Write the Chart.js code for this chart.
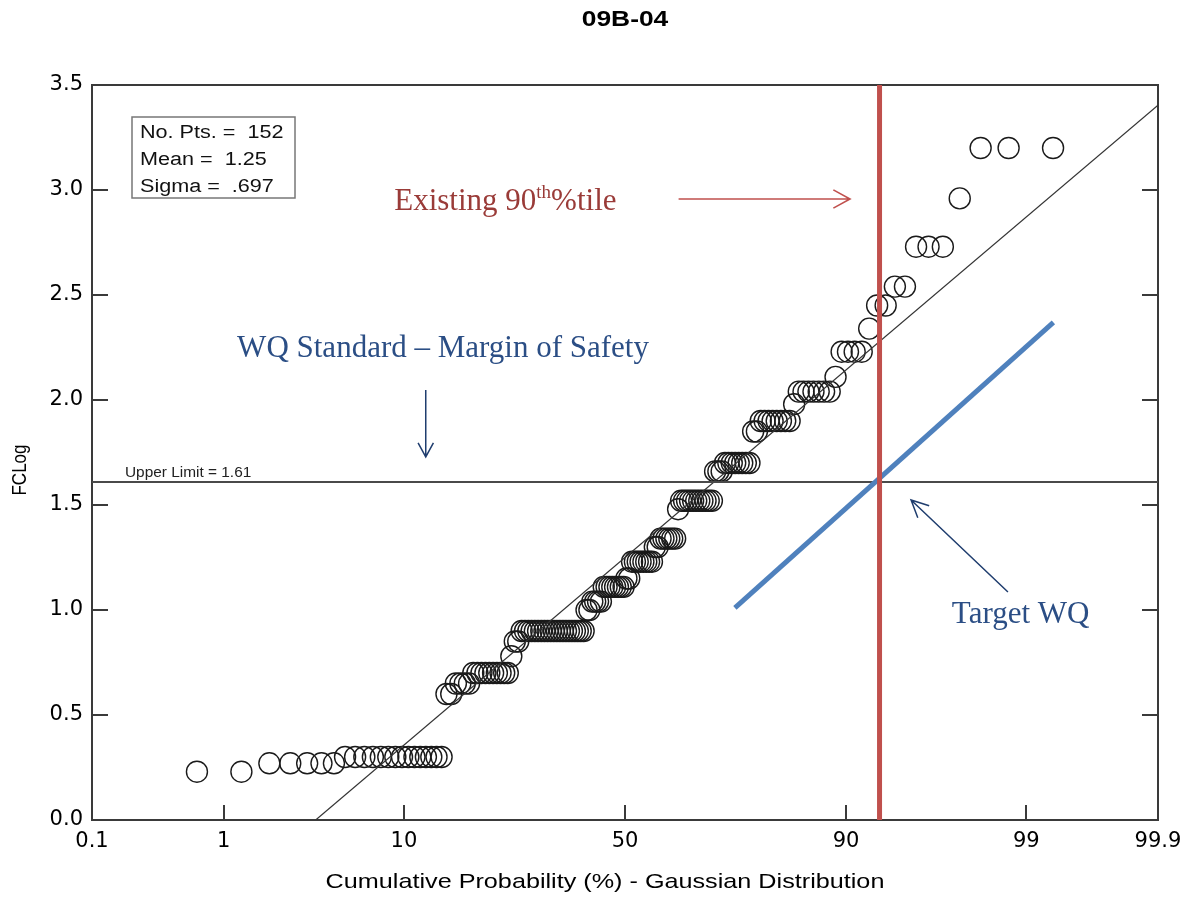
<!DOCTYPE html>
<html>
<head>
<meta charset="utf-8">
<title>09B-04</title>
<script src="https://cdn.jsdelivr.net/npm/chart.js@4.4.1/dist/chart.umd.min.js"></script>
<style>
  html, body { margin: 0; padding: 0; background: #fff; }
  #wrap { width: 1186px; height: 897px; }
</style>
</head>
<body>
<div id="wrap"><canvas id="probChart" width="1186" height="897"></canvas></div>
<script>
// sorted FCLog values (152 points)
const fcLog = [
  0.23, 0.23,
  0.27, 0.27, 0.27, 0.27, 0.27,
  0.30, 0.30, 0.30, 0.30, 0.30, 0.30, 0.30, 0.30, 0.30, 0.30, 0.30, 0.30, 0.30, 0.30, 0.30,
  0.60, 0.60,
  0.65, 0.65, 0.65, 0.65,
  0.70, 0.70, 0.70, 0.70, 0.70, 0.70, 0.70, 0.70, 0.70, 0.70,
  0.78,
  0.85, 0.85,
  0.90, 0.90, 0.90, 0.90, 0.90, 0.90, 0.90, 0.90, 0.90, 0.90, 0.90,
  0.90, 0.90, 0.90, 0.90, 0.90, 0.90, 0.90, 0.90, 0.90, 0.90,
  1.00, 1.00,
  1.04, 1.04, 1.04, 1.04,
  1.11, 1.11, 1.11, 1.11, 1.11, 1.11, 1.11, 1.11,
  1.15, 1.15,
  1.23, 1.23, 1.23, 1.23, 1.23, 1.23, 1.23, 1.23,
  1.30, 1.30,
  1.34, 1.34, 1.34, 1.34, 1.34, 1.34,
  1.48,
  1.52, 1.52, 1.52, 1.52, 1.52, 1.52, 1.52, 1.52, 1.52, 1.52, 1.52,
  1.66, 1.66, 1.66,
  1.70, 1.70, 1.70, 1.70, 1.70, 1.70, 1.70, 1.70,
  1.85, 1.85,
  1.90, 1.90, 1.90, 1.90, 1.90, 1.90, 1.90, 1.90,
  1.98,
  2.04, 2.04, 2.04, 2.04, 2.04, 2.04, 2.04,
  2.11,
  2.23, 2.23, 2.23, 2.23,
  2.34,
  2.45, 2.45,
  2.54, 2.54,
  2.73, 2.73, 2.73,
  2.96,
  3.20, 3.20, 3.20
];

const xTickPct = [0.1, 1, 10, 50, 90, 99, 99.9];
const xTickLabels = ["0.1", "1", "10", "50", "90", "99", "99.9"];

const noPts = 152;
const meanVal = 1.25;
const sigmaVal = 0.697;
const upperLimit = 1.61;

// hand drawn annotations (percent, FCLog)
const existingPct = 93.0;
const targetPct = [73.8, 99.35];
const targetY = [1.01, 2.37];
const existingLabel = [24.4, 2.905];
const existingArrow = [62.2, 2.957, 90.4, 2.957];
const marginLabel = [14.57, 2.205];
const marginArrow = [12.4, 2.048, 12.4, 1.729];
const targetLabel = [98.91, 0.938];
const targetArrow = [98.68, 1.086, 95.14, 1.524];

// inverse normal cdf (Acklam)
function probit(p) {
  var a = [-39.69683028665376, 220.9460984245205, -275.9285104469687, 138.3577518672690, -30.66479806614716, 2.506628277459239];
  var b = [-54.47609879822406, 161.5858368580409, -155.6989798598866, 66.80131188771972, -13.28068155288572];
  var c = [-0.007784894002430293, -0.3223964580411365, -2.400758277161838, -2.549732539343734, 4.374664141464968, 2.938163982698783];
  var d = [0.007784695709041462, 0.3224671290700398, 2.445134137142996, 3.754408661907416];
  var pl = 0.02425, q, r;
  if (p < pl) {
    q = Math.sqrt(-2 * Math.log(p));
    return (((((c[0] * q + c[1]) * q + c[2]) * q + c[3]) * q + c[4]) * q + c[5]) / ((((d[0] * q + d[1]) * q + d[2]) * q + d[3]) * q + 1);
  }
  if (p > 1 - pl) {
    q = Math.sqrt(-2 * Math.log(1 - p));
    return -(((((c[0] * q + c[1]) * q + c[2]) * q + c[3]) * q + c[4]) * q + c[5]) / ((((d[0] * q + d[1]) * q + d[2]) * q + d[3]) * q + 1);
  }
  q = p - 0.5;
  r = q * q;
  return (((((a[0] * r + a[1]) * r + a[2]) * r + a[3]) * r + a[4]) * r + a[5]) * q / (((((b[0] * r + b[1]) * r + b[2]) * r + b[3]) * r + b[4]) * r + 1);
}
function zOf(pct) { return probit(pct / 100); }

const zMin = zOf(xTickPct[0]);
const zMax = zOf(xTickPct[xTickPct.length - 1]);
const xTickZ = xTickPct.map(zOf);

// plotting position i/(n+1)
const points = fcLog.map(function (v, i) {
  return { x: probit((i + 1) / (fcLog.length + 1)), y: v };
});

const sansFont = "'DejaVu Sans', 'Liberation Sans', Arial, sans-serif";
const arialFont = "'Liberation Sans', Arial, sans-serif";
const serifFont = "'Liberation Serif', 'Times New Roman', serif";

function arrow(ctx, x1, y1, x2, y2, head, spread) {
  var ang = Math.atan2(y2 - y1, x2 - x1);
  ctx.beginPath();
  ctx.moveTo(x1, y1);
  ctx.lineTo(x2, y2);
  ctx.moveTo(x2 - head * Math.cos(ang - spread), y2 - head * Math.sin(ang - spread));
  ctx.lineTo(x2, y2);
  ctx.lineTo(x2 - head * Math.cos(ang + spread), y2 - head * Math.sin(ang + spread));
  ctx.stroke();
}

// the plot text is a bit wide in the original, stretch it sideways
function wideText(ctx, text, x, y, rot, sx) {
  ctx.save();
  ctx.translate(x, y);
  ctx.scale(sx || 1.2, 1);
  if (rot) ctx.rotate(rot);
  ctx.fillText(text, 0, 0);
  ctx.restore();
}

const framePlugin = {
  id: "frame",
  beforeDatasetsDraw(chart) {
    const ctx = chart.ctx, a = chart.chartArea, x = chart.scales.x, y = chart.scales.y;
    ctx.save();
    ctx.strokeStyle = "#3a3a3a";
    ctx.lineWidth = 2;
    ctx.strokeRect(a.left, a.top, a.right - a.left, a.bottom - a.top);
    ctx.beginPath();
    x.ticks.forEach(function (t) {
      var px = Math.round(x.getPixelForValue(t.value));
      if (px <= a.left + 2 || px >= a.right - 2) return;
      ctx.moveTo(px, a.bottom);
      ctx.lineTo(px, a.bottom - 15);
    });
    y.ticks.forEach(function (t) {
      var py = Math.round(y.getPixelForValue(t.value));
      if (py >= a.bottom - 2 || py <= a.top + 2) return;
      ctx.moveTo(a.left, py);
      ctx.lineTo(a.left + 16, py);
      ctx.moveTo(a.right, py);
      ctx.lineTo(a.right - 16, py);
    });
    ctx.stroke();
    ctx.restore();
  }
};

const notesPlugin = {
  id: "notes",
  afterDatasetsDraw(chart) {
    const ctx = chart.ctx, a = chart.chartArea, x = chart.scales.x, y = chart.scales.y;
    const px = function (pct) { return x.getPixelForValue(zOf(pct)); };
    const py = function (v) { return y.getPixelForValue(v); };
    ctx.save();

    // title and axis titles
    ctx.fillStyle = "#000";
    ctx.textAlign = "center";
    ctx.textBaseline = "middle";
    ctx.font = "bold 22px " + arialFont;
    wideText(ctx, "09B-04", (a.left + a.right) / 2, 20);
    ctx.font = "21px " + arialFont;
    wideText(ctx, "Cumulative Probability (%) - Gaussian Distribution", 605, 882);
    ctx.font = "17px " + arialFont;
    wideText(ctx, "FCLog", 20, 470, -Math.PI / 2);

    // stats box
    ctx.fillStyle = "#fff";
    ctx.fillRect(a.left + 40, a.top + 32, 163, 81);
    ctx.strokeStyle = "#777";
    ctx.lineWidth = 1.5;
    ctx.strokeRect(a.left + 40, a.top + 32, 163, 81);
    ctx.fillStyle = "#111";
    ctx.font = "18px " + arialFont;
    ctx.textAlign = "left";
    ctx.textBaseline = "alphabetic";
    wideText(ctx, "No. Pts. =  " + noPts, a.left + 48, a.top + 53);
    wideText(ctx, "Mean =  " + meanVal.toFixed(2), a.left + 48, a.top + 80);
    wideText(ctx, "Sigma =  " + String(sigmaVal).replace(/^0/, ""), a.left + 48, a.top + 107);

    // upper limit label
    ctx.font = "14px " + arialFont;
    ctx.fillStyle = "#222";
    wideText(ctx, "Upper Limit = " + upperLimit, a.left + 33, py(upperLimit) - 5, 0, 1.1);

    // Existing 90th %tile
    ctx.fillStyle = "#9a3b38";
    ctx.font = "31px " + serifFont;
    var w1 = ctx.measureText("Existing 90").width;
    var w3 = ctx.measureText("%tile").width;
    ctx.font = "19px " + serifFont;
    var w2 = ctx.measureText("th").width;
    var sx = px(existingLabel[0]) - (w1 + w2 + w3) / 2, sy = py(existingLabel[1]);
    ctx.font = "31px " + serifFont;
    ctx.fillText("Existing 90", sx, sy);
    ctx.fillText("%tile", sx + w1 + w2, sy);
    ctx.font = "19px " + serifFont;
    ctx.fillText("th", sx + w1, sy - 12);
    ctx.strokeStyle = "#c0504d";
    ctx.lineWidth = 1.6;
    arrow(ctx, px(existingArrow[0]), py(existingArrow[1]), px(existingArrow[2]), py(existingArrow[3]), 19, 0.5);

    // WQ Standard - Margin of Safety
    ctx.fillStyle = "#2b4e85";
    ctx.font = "31px " + serifFont;
    ctx.textAlign = "center";
    ctx.fillText("WQ Standard \u2013 Margin of Safety", px(marginLabel[0]), py(marginLabel[1]));
    ctx.strokeStyle = "#1f3d6e";
    ctx.lineWidth = 1.5;
    arrow(ctx, px(marginArrow[0]), py(marginArrow[1]), px(marginArrow[2]), py(marginArrow[3]), 16, 0.5);

    // Target WQ
    ctx.fillText("Target WQ", px(targetLabel[0]), py(targetLabel[1]));
    arrow(ctx, px(targetArrow[0]), py(targetArrow[1]), px(targetArrow[2]), py(targetArrow[3]), 19, 0.45);

    ctx.restore();
  }
};

const probChart = new Chart(document.getElementById("probChart"), {
  type: "scatter",
  data: {
    datasets: [
      {
        label: "Existing 90th %tile",
        data: [{ x: zOf(existingPct), y: 0 }, { x: zOf(existingPct), y: 3.5 }],
        showLine: true,
        borderColor: "#c0504d",
        borderWidth: 5,
        pointRadius: 0
      },
      {
        label: "Target WQ",
        data: [{ x: zOf(targetPct[0]), y: targetY[0] }, { x: zOf(targetPct[1]), y: targetY[1] }],
        showLine: true,
        borderColor: "#4f81bd",
        borderWidth: 5,
        pointRadius: 0
      },
      {
        label: "Upper Limit",
        data: [{ x: zMin, y: upperLimit }, { x: zMax, y: upperLimit }],
        showLine: true,
        borderColor: "#4a4a4a",
        borderWidth: 2,
        pointRadius: 0
      },
      {
        label: "Fit",
        data: [{ x: -meanVal / sigmaVal, y: 0 }, { x: zMax, y: meanVal + sigmaVal * zMax }],
        showLine: true,
        borderColor: "#333",
        borderWidth: 1.2,
        pointRadius: 0
      },
      {
        label: "FCLog",
        data: points,
        pointRadius: 10.5,
        pointBorderWidth: 1.4,
        pointBorderColor: "#1a1a1a",
        pointBackgroundColor: "rgba(0,0,0,0)"
      }
    ]
  },
  options: {
    responsive: false,
    animation: false,
    events: [],
    layout: { padding: { top: 85, right: 28, left: 0, bottom: 0 } },
    plugins: {
      legend: { display: false },
      tooltip: { enabled: false },
      title: { display: false }
    },
    scales: {
      x: {
        type: "linear",
        min: zMin,
        max: zMax,
        afterBuildTicks: function (s) {
          s.ticks = xTickZ.map(function (v) { return { value: v }; });
        },
        afterFit: function (s) {
          s.height = 77;
          s.paddingLeft = 0;
          s.paddingRight = 0;
        },
        grid: { display: false, drawTicks: false },
        border: { display: false },
        ticks: {
          autoSkip: false,
          maxRotation: 0,
          padding: 9,
          color: "#000",
          font: { family: sansFont, size: 21 },
          callback: function (v, i) { return xTickLabels[i]; }
        }
      },
      y: {
        min: 0,
        max: 3.5,
        afterFit: function (s) {
          s.width = 92;
          s.paddingTop = 0;
          s.paddingBottom = 0;
        },
        grid: { display: false, drawTicks: false },
        border: { display: false },
        ticks: {
          stepSize: 0.5,
          padding: 9,
          color: "#000",
          font: { family: sansFont, size: 21 },
          callback: function (v) { return v.toFixed(1); }
        }
      }
    }
  },
  plugins: [framePlugin, notesPlugin]
});
</script>
</body>
</html>
